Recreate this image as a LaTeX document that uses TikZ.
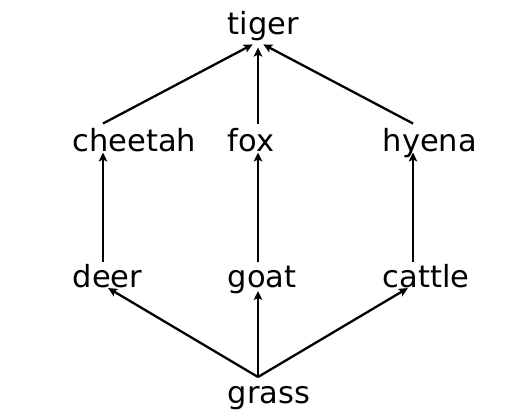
\documentclass[tikz,border=0pt]{standalone}
\usepackage{fontspec}
\setmainfont{DejaVu Sans}
\usetikzlibrary{arrows.meta}

\begin{document}
\begin{tikzpicture}[
  x=1pt, y=-1pt,
  animal/.style={anchor=base west, inner sep=0pt, font=\fontsize{30.5}{36}\selectfont},
  eats/.style={-{Stealth[length=9pt, width=8.5pt, inset=2pt]}, line width=2.3pt, shorten >=6pt}
]
\useasboundingbox (0,0) rectangle (515,418);

% labels
\node[animal] (tiger)   at (227.5,34.5)  {tiger};
\node[animal] (cheetah) at (72.5,151.3)  {cheetah};
\node[animal] (fox)     at (227.5,151.3) {fox};
\node[animal] (hyena)   at (382.5,151.3) {hyena};
\node[animal] (deer)    at (72.5,287.8)  {deer};
\node[animal] (goat)    at (227.5,287.8) {goat};
\node[animal] (cattle)  at (382.5,287.8) {cattle};
\node[animal] (grass)   at (227.5,403.5) {grass};

% arrow end points
\coordinate (tiger-in)    at (258,41.6);
\coordinate (cheetah-in)  at (103,146.5);
\coordinate (fox-in)      at (258,146.5);
\coordinate (hyena-in)    at (413,146.5);
\coordinate (cheetah-out) at (103,123.5);
\coordinate (fox-out)     at (258,123.5);
\coordinate (hyena-out)   at (413,123.5);
\coordinate (deer-in)     at (103,285);
\coordinate (goat-in)     at (258,285);
\coordinate (cattle-in)   at (413,285);
\coordinate (deer-out)    at (103,262);
\coordinate (goat-out)    at (258,262);
\coordinate (cattle-out)  at (413,262);
\coordinate (grass-out)   at (258,377);

\draw[eats] (cheetah-out) -- (tiger-in);
\draw[eats] (fox-out) -- (tiger-in);
\draw[eats] (hyena-out) -- (tiger-in);
\draw[eats] (deer-out) -- (cheetah-in);
\draw[eats] (goat-out) -- (fox-in);
\draw[eats] (cattle-out) -- (hyena-in);
\draw[eats] (grass-out) -- (deer-in);
\draw[eats] (grass-out) -- (goat-in);
\draw[eats] (grass-out) -- (cattle-in);
\end{tikzpicture}
\end{document}
